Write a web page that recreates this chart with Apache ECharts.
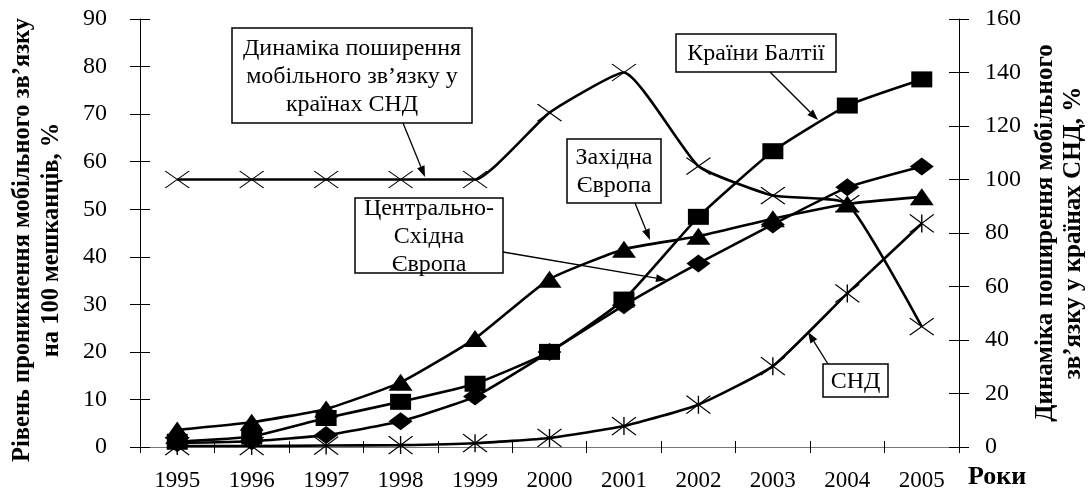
<!DOCTYPE html>
<html>
<head>
<meta charset="utf-8">
<script src="https://cdn.jsdelivr.net/npm/echarts@6/dist/echarts.min.js"></script>
<style>
  html, body { margin: 0; padding: 0; background: #fff; }
  #main { width: 1089px; height: 496px; }
</style>
</head>
<body>
<div id="main"></div>
<script>
// дані
var years = ['1995', '1996', '1997', '1998', '1999', '2000', '2001', '2002', '2003', '2004', '2005'];
var baltic = [1.1, 2.2, 6.1, 9.5, 13.3, 20, 31, 48.4, 62.2, 71.8, 77.3];
var westEurope = [3.6, 5.2, 8, 13.6, 22.8, 35.3, 41.6, 44.3, 48, 51.1, 52.6];
var centralEast = [0.8, 1.2, 2.5, 5.4, 10.6, 20, 29.8, 38.6, 46.8, 54.6, 59];
var cis = [0.2, 0.2, 0.3, 0.4, 0.8, 1.9, 4.4, 8.9, 17, 32.3, 47];
var cisDynamics = [100, 100, 100, 100, 100, 125, 140, 105, 94, 91, 45];
var leftTicks = { min: 0, max: 90, interval: 10 };
var rightTicks = { min: 0, max: 160, interval: 20 };

var FONT = 'Liberation Serif';
var myChart = echarts.init(document.getElementById('main'));

function arrow(x1, y1, x2, y2) {
    var a = Math.atan2(y2 - y1, x2 - x1), L = 11, W = 4;
    var bx = x2 - L * Math.cos(a), by = y2 - L * Math.sin(a);
    return [{
        type: 'line', z: 200,
        shape: { x1: x1, y1: y1, x2: bx, y2: by },
        style: { stroke: '#000', lineWidth: 1.3 }
    }, {
        type: 'polygon', z: 200,
        shape: { points: [[x2, y2], [bx + W * Math.sin(a), by - W * Math.cos(a)], [bx - W * Math.sin(a), by + W * Math.cos(a)]] },
        style: { fill: '#000' }
    }];
}

function box(x, y, w, h, text) {
    return {
        type: 'group', z: 200,
        children: [{
            type: 'rect', shape: { x: x, y: y, width: w, height: h },
            style: { fill: '#fff', stroke: '#000', lineWidth: 1.5 }
        }, {
            type: 'text',
            style: {
                x: x + w / 2, y: y + h / 2 + 1, text: text, align: 'center', verticalAlign: 'middle',
                font: '24px "' + FONT + '"', lineHeight: 28, fill: '#000'
            }
        }]
    };
}

var graphics = [].concat(
    [box(232, 28, 240, 95, 'Динаміка поширення\nмобільного зв’язку у\nкраїнах СНД')],
    arrow(403, 123, 425, 177),
    [box(676, 34, 160, 38, 'Країни Балтії')],
    arrow(770, 72, 818, 120),
    [box(567, 139, 94, 64, 'Західна\nЄвропа')],
    arrow(635, 203, 650, 240),
    [box(355, 198, 148, 75, 'Центрально-\nСхідна\nЄвропа')],
    arrow(503, 252, 667, 280),
    [box(823, 364, 65, 33, 'СНД')],
    arrow(828, 364, 808, 332),
    [{
        type: 'text', left: 968, top: 464,
        style: { text: 'Роки', font: 'bold 26px "' + FONT + '"', fill: '#000' }
    }]
);

var lineBase = {
    type: 'line',
    smooth: 0.15,
    lineStyle: { color: '#000', width: 2.6 },
    itemStyle: { color: '#000' },
    emphasis: { disabled: true },
    animation: false
};

function makeSeries(name, data, symbol, size, yIdx, stroked) {
    var s = Object.assign({}, lineBase, {
        name: name, data: data, symbol: symbol, symbolSize: size,
        yAxisIndex: yIdx || 0
    });
    if (stroked) {
        s.itemStyle = { color: 'rgba(0,0,0,0)', borderColor: '#000', borderWidth: 1.2 };
    }
    return s;
}

var option = {
    backgroundColor: '#fff',
    animation: false,
    grid: { left: 140, right: 130, top: 19, bottom: 49, containLabel: false, outerBoundsMode: 'none' },
    xAxis: [{
        type: 'category',
        data: years,
        boundaryGap: true,
        axisLine: { lineStyle: { color: '#777', width: 1.2 } },
        axisTick: { show: true, length: 6, lineStyle: { color: '#000' } },
        axisLabel: { color: '#000', fontFamily: FONT, fontSize: 23, margin: 22 }
    }, {
        type: 'category',
        data: years,
        position: 'bottom',
        boundaryGap: true,
        axisLine: { show: false },
        axisTick: { show: true, inside: true, length: 6, lineStyle: { color: '#000' } },
        axisLabel: { show: false }
    }],
    yAxis: [{
        type: 'value',
        position: 'left',
        min: leftTicks.min, max: leftTicks.max, interval: leftTicks.interval,
        axisLine: { show: true, lineStyle: { color: '#000', width: 1 } },
        axisTick: { show: true, length: 10, lineStyle: { color: '#000' } },
        axisLabel: { color: '#000', fontFamily: FONT, fontSize: 24, margin: 33 },
        splitLine: { show: false },
        name: 'Рівень проникнення мобільного зв’язку\nна 100 мешканців, %',
        nameLocation: 'middle',
        nameRotate: 90,
        nameGap: 74,
        nameTextStyle: { color: '#000', fontFamily: FONT, fontSize: 24.5, fontWeight: 'bold', lineHeight: 29, padding: [0, 14, 0, 0] }
    }, {
        type: 'value',
        position: 'right',
        min: rightTicks.min, max: rightTicks.max, interval: rightTicks.interval,
        axisLine: { show: true, lineStyle: { color: '#000', width: 1 } },
        axisTick: { show: true, length: 10, lineStyle: { color: '#000' } },
        axisLabel: { color: '#000', fontFamily: FONT, fontSize: 24, margin: 26 },
        splitLine: { show: false },
        name: 'Динаміка поширення мобільного\nзв’язку у країнах СНД, %',
        nameLocation: 'middle',
        nameRotate: 90,
        nameGap: 55,
        nameTextStyle: { color: '#000', fontFamily: FONT, fontSize: 25, fontWeight: 'bold', lineHeight: 28 }
    }, {
        type: 'value',
        position: 'left',
        min: leftTicks.min, max: leftTicks.max, interval: leftTicks.interval,
        axisLine: { show: false },
        axisTick: { show: true, inside: true, length: 10, lineStyle: { color: '#000' } },
        axisLabel: { show: false },
        splitLine: { show: false }
    }, {
        type: 'value',
        position: 'right',
        min: rightTicks.min, max: rightTicks.max, interval: rightTicks.interval,
        axisLine: { show: false },
        axisTick: { show: true, inside: true, length: 10, lineStyle: { color: '#000' } },
        axisLabel: { show: false },
        splitLine: { show: false }
    }],
    series: [
        makeSeries('Динаміка СНД', cisDynamics, 'path://M0,0L24,17M24,0L0,17', [24, 17], 1, true),
        makeSeries('СНД', cis, 'path://M0,0L24,18M24,0L0,18M12,0L12,18', [24, 18], 0, true),
        makeSeries('Центрально-Східна Європа', centralEast, 'diamond', [24, 18]),
        makeSeries('Західна Європа', westEurope, 'triangle', [24, 17]),
        makeSeries('Країни Балтії', baltic, 'rect', [21, 16])
    ],
    graphic: graphics
};

myChart.setOption(option);
</script>
</body>
</html>
